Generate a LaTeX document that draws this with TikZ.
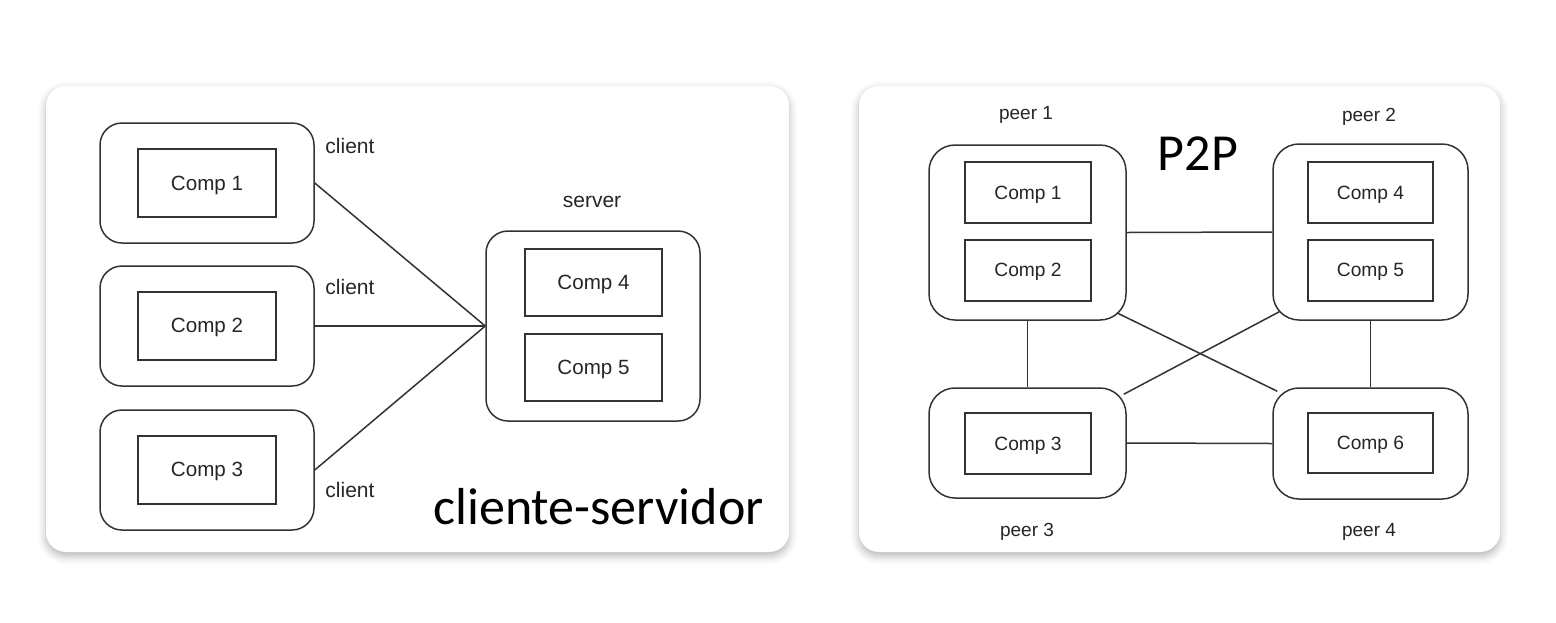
\documentclass[tikz,border=0pt]{standalone}
\usepackage{fontspec}
\setmainfont{Liberation Sans}
\newfontfamily\calibrifont{Carlito}
\usetikzlibrary{calc,shadows.blur}
\definecolor{ln}{HTML}{333333}
\tikzset{
  panel/.style={fill=white, rounded corners=10pt, blur shadow={shadow xshift=0pt, shadow yshift=-2pt, shadow blur radius=4pt, shadow opacity=30}},
  outerbox/.style={draw=ln, line width=0.75pt, rounded corners=11pt, fill=white},
  peerbox/.style={draw=ln, line width=0.75pt, rounded corners=13pt, fill=white},
  innerbox/.style={draw=ln, line width=1pt, fill=white, text depth=0pt, font=\fontsize{10.3pt}{12pt}\selectfont, text=black!85},
  innersm/.style={draw=ln, line width=1pt, fill=white, text depth=0pt, font=\fontsize{9.6pt}{11pt}\selectfont, text=black!85},
  lbl/.style={text depth=0pt, font=\fontsize{10.5pt}{12pt}\selectfont, text=black!85},
  lblsm/.style={text depth=0pt, font=\fontsize{9.5pt}{11pt}\selectfont, text=black!85},
  big/.style={font=\calibrifont\fontsize{26pt}{30pt}\selectfont, text=black, anchor=base},
  conn/.style={draw=ln, line width=0.75pt}
}
\begin{document}
\begin{tikzpicture}[x=0.5pt,y=-0.5pt]
\useasboundingbox (0,0) rectangle (1556,622);
% panels
\path[panel] (46,86) rectangle (789,552);
\path[panel] (859,86) rectangle (1500,552);

% ---- client-server ----
\node[outerbox, minimum width=107pt, minimum height=60pt] (c1) at (207,183) {};
\node[innerbox, minimum width=69pt, minimum height=34pt] (k1) at (207,183) {Comp 1};
\node[outerbox, minimum width=107pt, minimum height=60pt] (c2) at (207,326) {};
\node[innerbox, minimum width=69pt, minimum height=34pt] (k2) at (207,325.5) {Comp 2};
\node[outerbox, minimum width=107pt, minimum height=60pt] (c3) at (207,470) {};
\node[innerbox, minimum width=69pt, minimum height=34pt] (k3) at (207,469.5) {Comp 3};
\node[outerbox, minimum width=107pt, minimum height=95pt] (srv) at (593,326) {};
\node[innerbox, minimum width=68.5pt, minimum height=33.5pt] (k4) at (593.5,282.5) {Comp 4};
\node[innerbox, minimum width=68.5pt, minimum height=33.5pt] (k5) at (593.5,367.5) {Comp 5};

\node[lbl] (l1) at (350,146) {client};
\node[lbl] (l2) at (350,287) {client};
\node[lbl] (l3) at (350,490) {client};
\node[lbl] (ls) at (592,202) {server};

\draw[conn] (c1.east) -- (srv.west);
\draw[conn] (c2.east) -- (srv.west);
\draw[conn] (c3.east) -- (srv.west);

\node[big] (t1) at (598.5,524) {cliente-servidor};

% ---- P2P ----
\node[peerbox, minimum width=98.5pt, minimum height=87.5pt] (p1) at (1027.5,232.5) {};
\node[innersm, minimum width=63pt, minimum height=30.5pt] (q1) at (1028,192.5) {Comp 1};
\node[innersm, minimum width=63pt, minimum height=30.5pt] (q2) at (1028,270) {Comp 2};
\node[peerbox, minimum width=97.5pt, minimum height=88pt] (p2) at (1370.5,232) {};
\node[innersm, minimum width=62.5pt, minimum height=30.5pt] (q4) at (1370.5,192.5) {Comp 4};
\node[innersm, minimum width=62.5pt, minimum height=30.5pt] (q5) at (1370.5,270) {Comp 5};
\node[peerbox, minimum width=98.5pt, minimum height=55pt] (p3) at (1027.5,443) {};
\node[innersm, minimum width=63pt, minimum height=30.5pt] (q3) at (1028,443.5) {Comp 3};
\node[peerbox, minimum width=97.5pt, minimum height=55.5pt] (p4) at (1370.5,443.5) {};
\node[innersm, minimum width=62.5pt, minimum height=30pt] (q6) at (1370.5,443) {Comp 6};

\node[lblsm] (r1) at (1026,113) {peer 1};
\node[lblsm] (r2) at (1369,115) {peer 2};
\node[lblsm] (r3) at (1027,530) {peer 3};
\node[lblsm] (r4) at (1369,530) {peer 4};

\draw[conn] (p1.east) -- (p2.west);
\draw[conn] (p1.south) -- (p3.north);
\draw[conn] (p2.south) -- (p4.north);
\draw[conn] (p3.east) -- (p4.west);
\draw[conn] ($(p1.south east)+(-10,-8)$) -- ($(p4.north west)+(5,4)$);
\draw[conn] ($(p2.south west)+(7,-9)$) -- ($(p3.north east)+(-3,7)$);

\node[big] (t2) at (1198,170) {P2P};
\end{tikzpicture}
\end{document}
